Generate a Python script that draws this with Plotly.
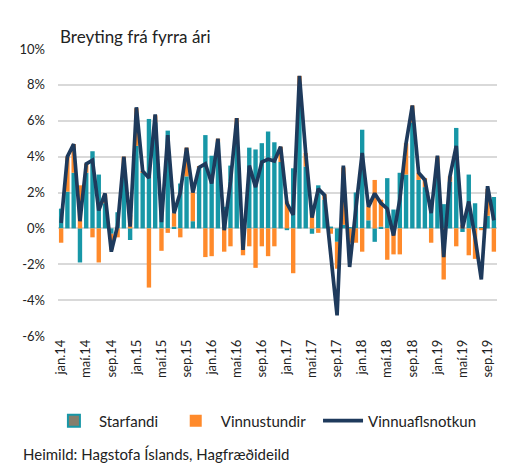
import plotly.graph_objects as go

month_names = ["jan", "feb", "mar", "apr", "maí", "jún", "júl", "ágú", "sep", "okt", "nóv", "des"]
years = ["14", "15", "16", "17", "18", "19"]
categories = [f"{m}.{y}" for y in years for m in month_names][:70]

starfandi = [1.1, 2.05, 3.1, -1.9, 3.1, 4.3, 3.0, 1.4, -0.3, 0.9, 3.0, -0.65,
             4.6, 3.1, 6.1, 5.9, 1.6, 5.45, 0.1, 2.5, 2.9, 0.4, 3.4, 5.2,
             4.05, 4.8, 1.2, 3.5, 5.0, 0.3, 4.5, 4.4, 4.75, 5.4, 4.8, 3.7,
             -0.1, 3.35, 7.2, 3.45, -0.3, 2.4, 1.6, 0.1, -0.75, 0.2, 0.05, 2.0,
             5.5, 0.45, -0.75, 0.1, 2.8, 1.05, 3.1, 3.0, 5.9, 2.7, 2.3, 1.6,
             3.5, 1.35, 2.6, 5.6, -0.2, 3.0, 1.4, 0.05, 0.7, 1.75]
vinnustundir = [-0.8, 1.95, 1.6, 2.4, 0.5, -0.5, -1.9, 0.5, -0.9, -0.5, 1.0, 0.75,
                2.1, 0.1, -3.3, 0.4, -1.25, -0.25, 0.75, -0.5, 1.6, 1.6, 0.05, -1.6,
                -1.55, 0.2, -1.3, -1.0, 1.15, -1.5, -1.0, -2.2, -1.0, -1.55, -1.0, 0.85,
                1.5, -2.5, 1.3, 0.75, 0.9, -0.25, 0.3, -0.3, -1.5, 3.2, -0.8, -0.8,
                -1.3, 0.75, 2.7, 1.5, -1.75, -1.45, -1.45, 1.75, 0.95, 0.4, 0.5, -0.8,
                0.5, -2.85, 0.3, -1.0, 0.2, -1.5, -1.7, -0.1, 1.5, -1.3]
vinnuaflsnotkun = [0.3, 4.0, 4.7, 0.4, 3.6, 3.8, 1.0, 1.95, -1.3, 0.15, 4.0, 0.1,
                   6.75, 3.2, 2.8, 6.35, 0.35, 5.2, 0.85, 2.0, 4.5, 2.0, 3.4, 3.6,
                   2.5, 5.0, -0.1, 2.6, 6.15, -1.2, 3.5, 2.3, 3.7, 3.85, 3.75, 4.55,
                   1.4, 0.75, 8.5, 4.2, 0.6, 2.2, 1.85, -1.6, -4.85, 3.5, -2.15, 1.1,
                   4.2, 1.2, 1.95, 1.4, 1.1, -0.4, 1.6, 4.75, 6.85, 3.1, 2.7, 0.85,
                   4.05, -1.6, 2.9, 4.6, 0.0, 1.5, -0.5, -2.85, 2.35, 0.45]
tick_labels = categories[::4]
y_ticks = [-6, -4, -2, 0, 2, 4, 6, 8, 10]

TEAL = "#1797A7"
ORANGE = "#FF8A2B"
NAVY = "#1E3A5C"
FONT = "Lato"
PAD = "\u00a0\u00a0"

fig = go.Figure()
fig.add_trace(go.Bar(x=categories, y=starfandi, name="Starfandi", marker_color=TEAL,
                     marker_line_width=0, showlegend=False))
fig.add_trace(go.Bar(x=categories, y=vinnustundir, name="Vinnustundir", marker_color=ORANGE,
                     marker_line_width=0, showlegend=False))
# legend entries
fig.add_trace(go.Bar(x=[categories[0]], y=[None], name="Starfandi" + PAD, marker_color="#857E6C",
                     marker_line=dict(color=TEAL, width=2), legendrank=1))
fig.add_trace(go.Bar(x=[categories[0]], y=[None], name="Vinnustundir" + PAD, marker_color=ORANGE,
                     marker_line_width=0, legendrank=2))
fig.add_trace(go.Scatter(x=categories, y=vinnuaflsnotkun, name="Vinnuaflsnotkun", mode="lines",
                         line=dict(color=NAVY, width=3.7), legendrank=3))

fig.update_layout(
    width=499, height=455,
    margin=dict(l=50, r=10, t=41, b=127, autoexpand=False),
    paper_bgcolor="white", plot_bgcolor="white",
    barmode="relative", bargap=0.3,
    font=dict(family=FONT, size=13, color="#222222"),
    legend=dict(orientation="h", xref="container", x=0.082, xanchor="left",
                y=-0.296, yanchor="middle",
                font=dict(size=15), itemwidth=40, traceorder="normal"),
    annotations=[
        dict(text="Breyting frá fyrra ári", xref="paper", yref="paper", x=0.0, y=1.042,
             xanchor="left", yanchor="middle", showarrow=False, font=dict(size=17)),
        dict(text="Heimild: Hagstofa Íslands, Hagfræðideild", xref="paper", yref="paper",
             x=-0.084, y=-0.412, xanchor="left", yanchor="middle", showarrow=False,
             font=dict(size=15)),
    ],
)
fig.update_xaxes(type="category", categoryorder="array", categoryarray=categories,
                 tickmode="array", tickvals=tick_labels, ticktext=tick_labels,
                 tickangle=-90, showgrid=False, showline=False, ticks="",
                 tickfont=dict(size=13), range=[-0.5, 69.5], automargin=False)
fig.update_yaxes(range=[-6, 10], tickmode="array", tickvals=y_ticks,
                 ticktext=[f"{v}%" for v in y_ticks], showgrid=True, gridcolor="#D9D9D9",
                 gridwidth=1.5, zeroline=False, showline=False, ticks="",
                 tickfont=dict(size=13), ticklabelstandoff=12, automargin=False)

fig.write_html("out.html")
